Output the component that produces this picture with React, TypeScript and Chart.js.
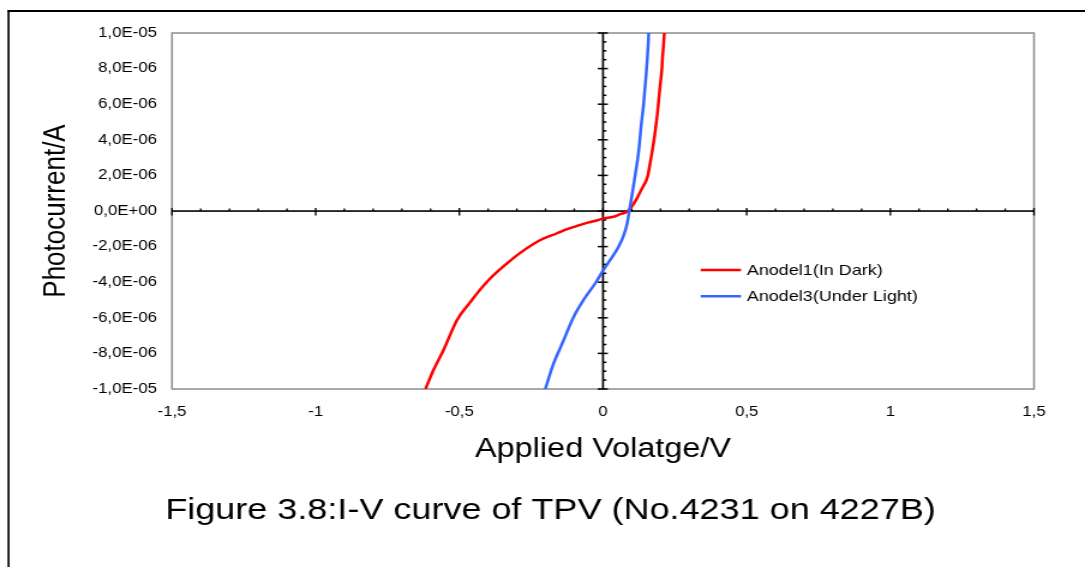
import React, { useEffect, useRef } from 'react';
import { Chart, registerables } from 'chart.js';

Chart.register(...registerables);

// ---- data ----
const darkV = [
  -0.618, -0.590, -0.555, -0.508, -0.462, -0.439, -0.392, -0.334, -0.288, -0.218,
  -0.160, -0.125, -0.090, -0.050, -0.020, 0.0, 0.037, 0.060, 0.084, 0.100,
  0.118, 0.136, 0.150, 0.156, 0.167, 0.180, 0.190, 0.199, 0.205, 0.207, 0.210, 0.2135,
];
const darkI = [
  -10.0e-6, -8.93e-6, -7.81e-6, -6.12e-6, -5.12e-6, -4.64e-6, -3.78e-6, -2.94e-6, -2.35e-6, -1.63e-6,
  -1.25e-6, -1.02e-6, -0.84e-6, -0.64e-6, -0.52e-6, -0.43e-6, -0.32e-6, -0.18e-6, -0.03e-6, 0.25e-6,
  0.71e-6, 1.28e-6, 1.70e-6, 2.0e-6, 2.96e-6, 4.27e-6, 5.58e-6, 7.08e-6, 8.0e-6, 8.58e-6, 9.2e-6, 10.0e-6,
];
const lightV = [
  -0.201, -0.172, -0.149, -0.137, -0.102, -0.068, -0.027, 0.0, 0.025, 0.054,
  0.070, 0.078, 0.084, 0.0915, 0.101, 0.112, 0.124, 0.133, 0.141, 0.150,
  0.155, 0.157, 0.159,
];
const lightI = [
  -10.0e-6, -8.56e-6, -7.7e-6, -7.25e-6, -5.94e-6, -5.0e-6, -4.06e-6, -3.35e-6, -2.75e-6, -2.01e-6,
  -1.45e-6, -1.07e-6, -0.70e-6, 0.0, 0.90e-6, 2.02e-6, 3.33e-6, 4.83e-6, 5.96e-6, 7.64e-6,
  8.76e-6, 9.3e-6, 10.0e-6,
];
const seriesLabels = ['Anodel1(In Dark)', 'Anodel3(Under Light)'];
const seriesColors = ['#FF0000', '#3366FF'];

const xTickValues = [-1.5, -1, -0.5, 0, 0.5, 1, 1.5];
const xTickLabels = ['-1,5', '-1', '-0,5', '0', '0,5', '1', '1,5'];
const yTickValues = [-1e-5, -8e-6, -6e-6, -4e-6, -2e-6, 0, 2e-6, 4e-6, 6e-6, 8e-6, 1e-5];
const yTickLabels = [
  '-1,0E-05', '-8,0E-06', '-6,0E-06', '-4,0E-06', '-2,0E-06', '0,0E+00',
  '2,0E-06', '4,0E-06', '6,0E-06', '8,0E-06', '1,0E-05',
];
const xTitle = 'Applied Volatge/V';
const yTitle = 'Photocurrent/A';
const captionText = 'Figure 3.8:I-V curve of TPV (No.4231 on 4227B)';

// ---- layout helpers ----
const CW = 904;
const CH = 567;
const S = 1085 / CW; // horizontal stretch of the whole picture
const px = (realX: number) => realX / S;
const FONT = '"Liberation Sans", Arial, sans-serif';

const framePlugin = {
  id: 'outerFrame',
  beforeDraw(chart: any) {
    const ctx = chart.ctx;
    ctx.save();
    ctx.fillStyle = '#ffffff';
    ctx.fillRect(0, 0, chart.width, chart.height);
    ctx.fillStyle = '#000000';
    ctx.fillRect(px(7.5), 10, chart.width - px(7.5), 2);
    ctx.fillRect(px(7.5), 10, px(2), chart.height - 10);
    ctx.restore();
  },
};

const axesPlugin = {
  id: 'zeroAxes',
  beforeDatasetsDraw(chart: any) {
    const ctx = chart.ctx;
    const { left, right, top, bottom } = chart.chartArea;
    const xs = chart.scales.x;
    const ys = chart.scales.y;
    ctx.save();
    ctx.strokeStyle = '#8c8c8c';
    ctx.lineWidth = 1.5;
    ctx.strokeRect(left, top, right - left, bottom - top);
    const x0 = xs.getPixelForValue(0);
    const y0 = ys.getPixelForValue(0);
    ctx.fillStyle = '#000000';
    ctx.fillRect(left, y0 - 0.75, right - left, 1.6);
    ctx.fillRect(x0 - px(1), top, px(2), bottom - top);
    for (let k = -15; k <= 15; k++) {
      const p = xs.getPixelForValue(k / 10);
      if (k % 5 === 0) ctx.fillRect(p - px(0.8), y0 - 3, px(1.6), 7.5);
      else ctx.fillRect(p - px(0.8), y0 - 2.5, px(1.6), 2.5);
    }
    for (let k = -20; k <= 20; k++) {
      const p = ys.getPixelForValue(k * 5e-7);
      if (k % 4 === 0) ctx.fillRect(x0 - px(5.2), p - 0.75, px(10), 1.5);
      else ctx.fillRect(x0, p - 0.75, px(3.4), 1.5);
    }
    ctx.restore();
  },
};

const legendCaptionPlugin = {
  id: 'legendCaption',
  afterDraw(chart: any) {
    const ctx = chart.ctx;
    ctx.save();
    chart.data.datasets.forEach((ds: any, i: number) => {
      const y = 270 + i * 26.3;
      ctx.strokeStyle = ds.borderColor;
      ctx.lineWidth = 2.6;
      ctx.beginPath();
      ctx.moveTo(px(700.7), y);
      ctx.lineTo(px(741), y);
      ctx.stroke();
      ctx.fillStyle = '#000000';
      ctx.font = `15px ${FONT}`;
      ctx.textAlign = 'left';
      ctx.textBaseline = 'middle';
      ctx.fillText(ds.label, px(746.7), y + 0.7);
    });
    ctx.font = `30px ${FONT}`;
    ctx.textAlign = 'center';
    ctx.textBaseline = 'alphabetic';
    ctx.fillStyle = '#000000';
    ctx.fillText(captionText, px(550.5), 519);
    ctx.restore();
  },
};

function labelFor(values: number[], labels: string[], v: number, tol: number) {
  const i = values.findIndex((t) => Math.abs(t - v) < tol);
  return i >= 0 ? labels[i] : '';
}

export default function App() {
  const ref = useRef<HTMLCanvasElement | null>(null);

  useEffect(() => {
    if (!ref.current) return;
    Chart.defaults.font.family = FONT;
    Chart.defaults.color = '#000000';
    const darkPts = darkV.map((v, i) => ({ x: v, y: darkI[i] }));
    const lightPts = lightV.map((v, i) => ({ x: v, y: lightI[i] }));
    const chart = new Chart(ref.current, {
      type: 'scatter',
      data: {
        datasets: [
          {
            label: seriesLabels[0],
            data: darkPts,
            showLine: true,
            borderColor: seriesColors[0],
            backgroundColor: seriesColors[0],
            borderWidth: 2.5,
            pointRadius: 0,
            cubicInterpolationMode: 'monotone',
            order: 1,
          },
          {
            label: seriesLabels[1],
            data: lightPts,
            showLine: true,
            borderColor: seriesColors[1],
            backgroundColor: seriesColors[1],
            borderWidth: 2.5,
            pointRadius: 0,
            cubicInterpolationMode: 'monotone',
            order: 0,
          },
        ],
      },
      options: {
        responsive: false,
        devicePixelRatio: 1,
        animation: false,
        events: [],
        layout: { padding: { left: 0, right: CW - px(1034), top: 33, bottom: 97 } },
        plugins: {
          legend: { display: false },
          tooltip: { enabled: false },
          title: { display: false },
        },
        scales: {
          x: {
            type: 'linear',
            position: 'bottom',
            min: -1.5,
            max: 1.5,
            grid: { display: false, drawTicks: false },
            border: { display: false },
            afterBuildTicks: (scale: any) => {
              scale.ticks = xTickValues.map((v) => ({ value: v }));
            },
            afterFit: (scale: any) => {
              scale.height = 81;
            },
            ticks: {
              autoSkip: false,
              maxRotation: 0,
              minRotation: 0,
              padding: 14.5,
              font: { size: 14 },
              color: '#000000',
              callback: (v: any) => labelFor(xTickValues, xTickLabels, Number(v), 1e-9),
            },
            title: {
              display: true,
              text: xTitle,
              font: { size: 27 },
              color: '#000000',
              padding: { top: 0, bottom: 3.9 },
            },
          },
          y: {
            type: 'linear',
            position: 'left',
            min: -1e-5,
            max: 1e-5,
            grid: { display: false, drawTicks: false },
            border: { display: false },
            afterBuildTicks: (scale: any) => {
              scale.ticks = yTickValues.map((v) => ({ value: v }));
            },
            afterFit: (scale: any) => {
              scale.width = px(172);
            },
            ticks: {
              autoSkip: false,
              padding: 12.5,
              font: { size: 14 },
              color: '#000000',
              callback: (v: any) => labelFor(yTickValues, yTickLabels, Number(v), 1e-12),
            },
            title: {
              display: true,
              text: yTitle,
              font: { size: 26 },
              color: '#000000',
              padding: { top: 31.5, bottom: 0 },
            },
          },
        },
      },
      plugins: [framePlugin, axesPlugin, legendCaptionPlugin],
    } as any);
    return () => chart.destroy();
  }, []);

  return (
    <canvas
      ref={ref}
      width={CW}
      height={CH}
      style={{ position: 'absolute', left: 0, top: 0, width: '1085px', height: '567px', display: 'block' }}
    />
  );
}
